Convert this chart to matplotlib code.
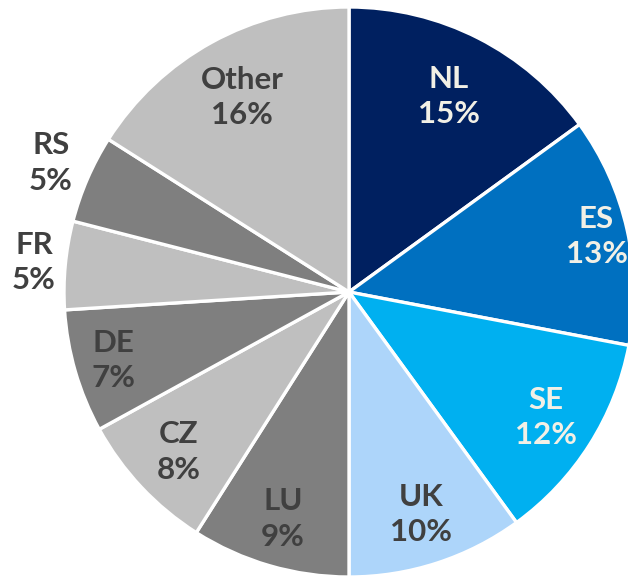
import matplotlib
matplotlib.use("Agg")
import matplotlib.pyplot as plt
import numpy as np

labels = ["NL", "ES", "SE", "UK", "LU", "CZ", "DE", "FR", "RS", "Other"]
values = [15, 13, 12, 10, 9, 8, 7, 5, 5, 16]
colors = ["#002060", "#0070C0", "#00B0F0", "#ADD5FA", "#7F7F7F",
          "#BFBFBF", "#7F7F7F", "#BFBFBF", "#7F7F7F", "#BFBFBF"]
text_colors = ["#F2F0E6", "#F2F0E6", "#F2F0E6", "#404040", "#404040",
               "#404040", "#404040", "#404040", "#404040", "#404040"]
label_radius = [0.77, 0.89, 0.82, 0.82, 0.83, 0.82, 0.86, 1.11, 1.14, 0.78]

R = 285
fig = plt.figure(figsize=(6.28, 5.78), dpi=100)
ax = fig.add_axes([0, 0, 1, 1])
wedges, _ = ax.pie(values, colors=colors, startangle=90, counterclock=False,
                   wedgeprops=dict(edgecolor="white", linewidth=2.4))

total = sum(values)
for w, lab, v, tc, lr in zip(wedges, labels, values, text_colors, label_radius):
    ang = np.deg2rad((w.theta1 + w.theta2) / 2)
    x, y = lr * np.cos(ang), lr * np.sin(ang)
    ax.text(x, y, f"{lab}\n{round(100*v/total)}%", ha="center", va="center",
            fontsize=22.5, fontweight="bold", color=tc, family=["Lato", "DejaVu Sans"],
            linespacing=1.32)

ax.set_xlim(-349/R, (628-349)/R)
ax.set_ylim(-286/R, 292/R)
ax.set_aspect("auto")
ax.axis("off")
fig.savefig("out.png", dpi=100)
